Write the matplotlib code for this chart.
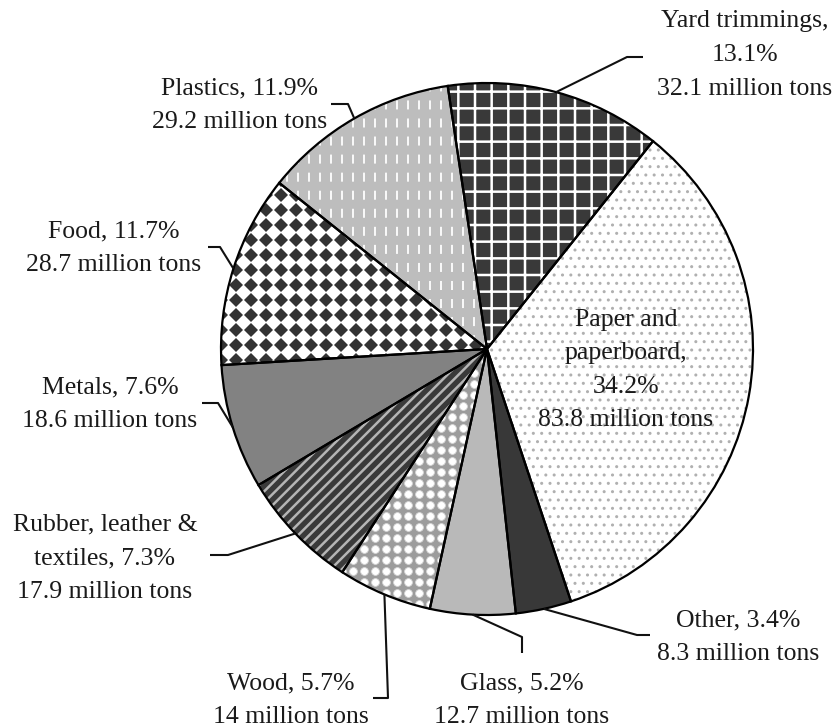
import numpy as np
import matplotlib
matplotlib.use("Agg")
import matplotlib.pyplot as plt

# ---- data ----
categories = ["Yard trimmings", "Paper and paperboard", "Other", "Glass", "Wood",
              "Rubber, leather & textiles", "Metals", "Food", "Plastics"]
million_tons = [32.1, 83.8, 8.3, 12.7, 14.0, 17.9, 18.6, 28.7, 29.2]
percents = [13.1, 34.2, 3.4, 5.2, 5.7, 7.3, 7.6, 11.7, 11.9]
label_texts = [
    "Yard trimmings,\n13.1%\n32.1 million tons",
    "Paper and\npaperboard,\n34.2%\n83.8 million tons",
    "Other, 3.4%\n8.3 million tons",
    "Glass, 5.2%\n12.7 million tons",
    "Wood, 5.7%\n14 million tons",
    "Rubber, leather &\ntextiles, 7.3%\n17.9 million tons",
    "Metals, 7.6%\n18.6 million tons",
    "Food, 11.7%\n28.7 million tons",
    "Plastics, 11.9%\n29.2 million tons",
]

# ---- styles (face, hatch, hatch colour, hatch lw) ----
styles = [
    ("#393939", "+", "white", 1.8),
    ("white", "..", "#b0b0b0", 1.0),
    ("#383838", None, None, 1.0),
    ("#b9b9b9", None, None, 1.0),
    ("#9c9c9c", None, None, 1.0),
    ("#3a3a3a", "///", "#b5b5b5", 1.8),
    ("#828282", None, None, 1.0),
    ("white", None, None, 1.0),
    ("#bdbdbd", None, None, 1.0),
]

W, H = 837, 728
fig = plt.figure(figsize=(W / 100, H / 100), dpi=100)
ax = fig.add_axes([0, 0, 1, 1])

cx, cy, R = 487, H - 349, 266
startangle = 98.5

def py(y):
    return H - y

# base fill with hatches
wedges, _ = ax.pie(million_tons, startangle=startangle, counterclock=False,
                   center=(cx, cy), radius=R, frame=True,
                   wedgeprops=dict(linewidth=0))
for w, (fc, hatch, hc, hlw) in zip(wedges, styles):
    w.set_facecolor(fc)
    if hatch:
        w.set_hatch(hatch)
        w.set_edgecolor(hc)
        try:
            w.set_hatch_linewidth(hlw)
        except AttributeError:
            pass
    else:
        w.set_edgecolor(fc)

# plastics texture: white short vertical dashes
xs = np.arange(cx - R, cx + R, 11)
vl = ax.vlines(xs, cy - R, cy + R, colors="white", linewidth=1.3,
               linestyles=(0, (5, 5)), zorder=3)
vl.set_clip_path(wedges[8])

# food texture: dark diamonds on white, square grid
gx, gy = np.meshgrid(np.arange(cx - R, cx + R, 15.0), np.arange(cy - R, cy + R, 15.0))
fd, = ax.plot(gx.ravel(), gy.ravel(), linestyle="none", marker="D",
              markersize=7.0, color="#333333", markeredgewidth=0, zorder=3)
fd.set_clip_path(wedges[7])

# wood texture: white bubbles on gray
wx, wy = np.meshgrid(np.arange(cx - R, cx + R, 11.0), np.arange(cy - R, cy + R, 11.0))
wd, = ax.plot(wx.ravel(), wy.ravel(), linestyle="none", marker="o",
              markersize=5.6, markerfacecolor="white", markeredgecolor="#d8d8d8",
              markeredgewidth=0.6, zorder=3)
wd.set_clip_path(wedges[4])

# outlines
wedges2, _ = ax.pie(million_tons, startangle=startangle, counterclock=False,
                    center=(cx, cy), radius=R, frame=True,
                    wedgeprops=dict(fill=False, edgecolor="black", linewidth=1.6))
for w in wedges2:
    w.set_zorder(4)

ax.set_xlim(0, W)
ax.set_ylim(0, H)
ax.set_aspect("equal")
ax.axis("off")

# labels: (x, y) block centres in pixel coords
label_pos = [(745, 55), (626, 370), (738, 637), (522, 700), (291, 700),
             (105, 558), (110, 404), (114, 248), (240, 105)]
# leader elbows (pixel coords) from wedge edge
leaders = [
    [(627, 57), (643, 57)],
    None,
    [(637, 635), (650, 635)],
    [(522, 637), (522, 653)],
    [(388, 698), (373, 698)],
    [(228, 555), (210, 555)],
    [(218, 403), (202, 403)],
    [(220, 247), (208, 247)],
    [(348, 104), (331, 104)],
]

fracs = np.array(million_tons) / np.sum(million_tons)
theta = startangle
for i, (txt, (lx, ly)) in enumerate(zip(label_texts, label_pos)):
    span = fracs[i] * 360
    mid = np.deg2rad(theta - span / 2)
    theta -= span
    ax.text(lx, py(ly), txt, ha="center", va="center", multialignment="center",
            fontsize=18.5, family="Liberation Serif", color="#1a1a1a",
            linespacing=1.68, zorder=6)
    if leaders[i]:
        x0 = cx + R * np.cos(mid)
        y0 = cy + R * np.sin(mid)
        pts = [(x0, y0)] + [(x, py(y)) for x, y in leaders[i]]
        ax.plot([p[0] for p in pts], [p[1] for p in pts], color="#111111",
                linewidth=1.5, solid_capstyle="butt", zorder=5)

fig.savefig("out.png", dpi=100, facecolor="white")
